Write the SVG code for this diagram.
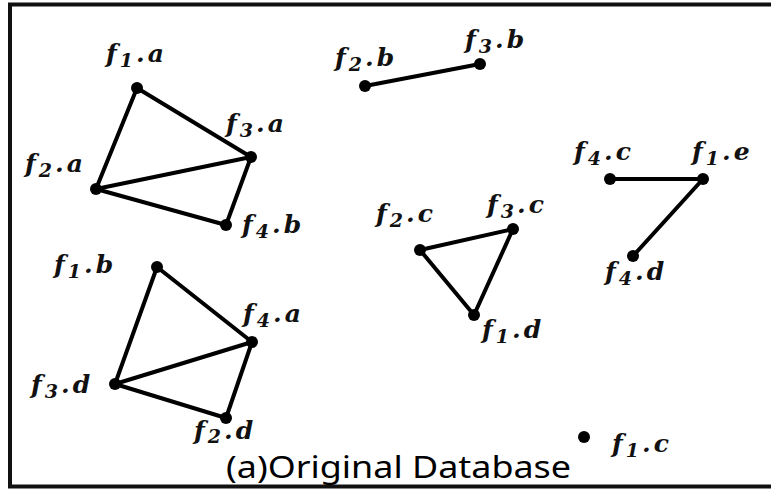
<svg xmlns="http://www.w3.org/2000/svg" width="771" height="490" viewBox="0 0 771 490">
<style>
.lbl{font-family:"DejaVu Serif","Liberation Serif",serif;font-style:italic;font-weight:bold;font-size:25px;fill:#111;letter-spacing:3px}
.sub{font-size:19px}
.edge{stroke:#000;stroke-width:4;stroke-linecap:round}
.dot{fill:#000}
.cap{font-family:"Noto Sans","Liberation Sans",sans-serif;font-size:30px;fill:#000}
</style>
<rect x="10" y="4.5" width="780" height="482" fill="#fff" stroke="#111" stroke-width="4"/>
<g id="connectors">
<line class="edge" x1="137" y1="88" x2="251" y2="157"/>
<line class="edge" x1="137" y1="88" x2="96" y2="189"/>
<line class="edge" x1="96" y1="189" x2="251" y2="157"/>
<line class="edge" x1="96" y1="189" x2="226" y2="225"/>
<line class="edge" x1="251" y1="157" x2="226" y2="225"/>
<line class="edge" x1="365" y1="86" x2="480" y2="64"/>
<line class="edge" x1="157" y1="267" x2="252" y2="342"/>
<line class="edge" x1="157" y1="267" x2="115" y2="384"/>
<line class="edge" x1="115" y1="384" x2="252" y2="342"/>
<line class="edge" x1="115" y1="384" x2="226" y2="418"/>
<line class="edge" x1="252" y1="342" x2="226" y2="418"/>
<line class="edge" x1="420" y1="250" x2="513" y2="229"/>
<line class="edge" x1="420" y1="250" x2="474" y2="315"/>
<line class="edge" x1="513" y1="229" x2="474" y2="315"/>
<line class="edge" x1="610" y1="179" x2="703" y2="179"/>
<line class="edge" x1="703" y1="179" x2="633" y2="256"/>
</g>
<g id="f1a"><circle class="dot" cx="137" cy="88" r="6"/><text class="lbl" x="106" y="62">f<tspan class="sub" dy="5">1</tspan><tspan dy="-5">.a</tspan></text></g>
<g id="f3a"><circle class="dot" cx="251" cy="157" r="6"/><text class="lbl" x="226" y="132">f<tspan class="sub" dy="5">3</tspan><tspan dy="-5">.a</tspan></text></g>
<g id="f2a"><circle class="dot" cx="96" cy="189" r="6"/><text class="lbl" x="25" y="172">f<tspan class="sub" dy="5">2</tspan><tspan dy="-5">.a</tspan></text></g>
<g id="f4b"><circle class="dot" cx="226" cy="225" r="6"/><text class="lbl" x="242" y="233">f<tspan class="sub" dy="5">4</tspan><tspan dy="-5">.b</tspan></text></g>
<g id="f2b"><circle class="dot" cx="365" cy="86" r="6"/><text class="lbl" x="335" y="66">f<tspan class="sub" dy="5">2</tspan><tspan dy="-5">.b</tspan></text></g>
<g id="f3b"><circle class="dot" cx="480" cy="64" r="6"/><text class="lbl" x="465" y="48">f<tspan class="sub" dy="5">3</tspan><tspan dy="-5">.b</tspan></text></g>
<g id="f1b"><circle class="dot" cx="157" cy="267" r="6"/><text class="lbl" x="54" y="273">f<tspan class="sub" dy="5">1</tspan><tspan dy="-5">.b</tspan></text></g>
<g id="f4a"><circle class="dot" cx="252" cy="342" r="6"/><text class="lbl" x="243" y="322">f<tspan class="sub" dy="5">4</tspan><tspan dy="-5">.a</tspan></text></g>
<g id="f3d"><circle class="dot" cx="115" cy="384" r="6"/><text class="lbl" x="31" y="393">f<tspan class="sub" dy="5">3</tspan><tspan dy="-5">.d</tspan></text></g>
<g id="f2d"><circle class="dot" cx="226" cy="418" r="6"/><text class="lbl" x="194" y="439">f<tspan class="sub" dy="4">2</tspan><tspan dy="-4">.d</tspan></text></g>
<g id="f2c"><circle class="dot" cx="420" cy="250" r="6"/><text class="lbl" x="376" y="222">f<tspan class="sub" dy="5">2</tspan><tspan dy="-5">.c</tspan></text></g>
<g id="f3c"><circle class="dot" cx="513" cy="229" r="6"/><text class="lbl" x="487" y="213">f<tspan class="sub" dy="5">3</tspan><tspan dy="-5">.c</tspan></text></g>
<g id="f1d"><circle class="dot" cx="474" cy="315" r="6"/><text class="lbl" x="482" y="338">f<tspan class="sub" dy="5">1</tspan><tspan dy="-5">.d</tspan></text></g>
<g id="f4c"><circle class="dot" cx="610" cy="179" r="6"/><text class="lbl" x="574" y="160">f<tspan class="sub" dy="5">4</tspan><tspan dy="-5">.c</tspan></text></g>
<g id="f1e"><circle class="dot" cx="703" cy="179" r="6"/><text class="lbl" x="692" y="160">f<tspan class="sub" dy="5">1</tspan><tspan dy="-5">.e</tspan></text></g>
<g id="f4d"><circle class="dot" cx="633" cy="256" r="6"/><text class="lbl" x="605" y="280">f<tspan class="sub" dy="5">4</tspan><tspan dy="-5">.d</tspan></text></g>
<g id="f1c"><circle class="dot" cx="584" cy="437" r="6"/><text class="lbl" x="612" y="452">f<tspan class="sub" dy="5">1</tspan><tspan dy="-5">.c</tspan></text></g>
<text class="cap" x="226" y="478" textLength="345" lengthAdjust="spacingAndGlyphs">(a)Original Database</text>
</svg>
